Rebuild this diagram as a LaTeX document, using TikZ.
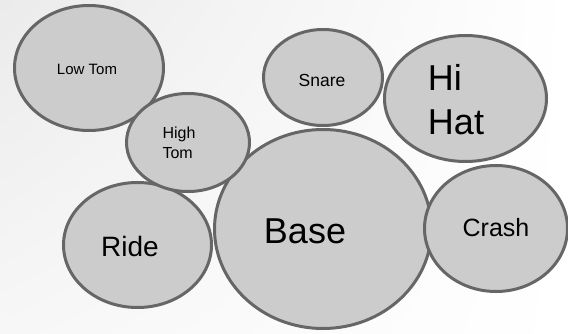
\documentclass[tikz,border=0pt]{standalone}
\usepackage{fontspec}
\setmainfont{Liberation Sans}
\usetikzlibrary{shapes.geometric,shadings}
\definecolor{drumfill}{HTML}{CCCCCC}
\definecolor{rim}{HTML}{666666}
\definecolor{bgA}{HTML}{EBEBEB}
\definecolor{bgB}{HTML}{F7F7F7}
\begin{document}
\begin{tikzpicture}[x=1pt,y=-1pt,
  drum/.style={ellipse, draw=rim, fill=drumfill, line width=3pt, inner sep=0pt},
  lbl/.style={inner sep=0pt, text=black, align=left}]
\useasboundingbox (0,0) rectangle (568,334);
\shade[upper left=bgA, upper right=white, lower left=bgB, lower right=white] (0,0) rectangle (568,334);
% drums: minimum size = 2*r - line width
\node[drum, minimum width=217pt, minimum height=199pt] (base) at (323,229) {};
\node[drum, minimum width=148pt, minimum height=125pt] (ride) at (137.5,245) {};
\node[drum, minimum width=143pt, minimum height=126pt] (crash) at (496,228.5) {};
\node[drum, minimum width=149pt, minimum height=125pt] (lowtom) at (89,68) {};
\node[drum, minimum width=123pt, minimum height=98pt] (hightom) at (188,142.5) {};
\node[drum, minimum width=119pt, minimum height=96pt] (snare) at (323,77.5) {};
\node[drum, minimum width=162pt, minimum height=126pt] (hihat) at (465.5,98.5) {};
% labels
\node[lbl, font=\fontsize{15}{18}\selectfont] (tlowtom) at (87,69) {Low Tom};
\node[lbl, font=\fontsize{16}{20}\selectfont] (thightom) at (179,143) {High\\Tom};
\node[lbl, font=\fontsize{17.5}{20}\selectfont] (tsnare) at (322,80) {Snare};
\node[lbl, font=\fontsize{36}{44}\selectfont] (thihat) at (456,100) {Hi\\Hat};
\node[lbl, font=\fontsize{36}{42}\selectfont] (tbase) at (305,231) {Base};
\node[lbl, font=\fontsize{28}{32}\selectfont] (tride) at (130,246) {Ride};
\node[lbl, font=\fontsize{25}{30}\selectfont] (tcrash) at (496,228) {Crash};
\end{tikzpicture}
\end{document}
